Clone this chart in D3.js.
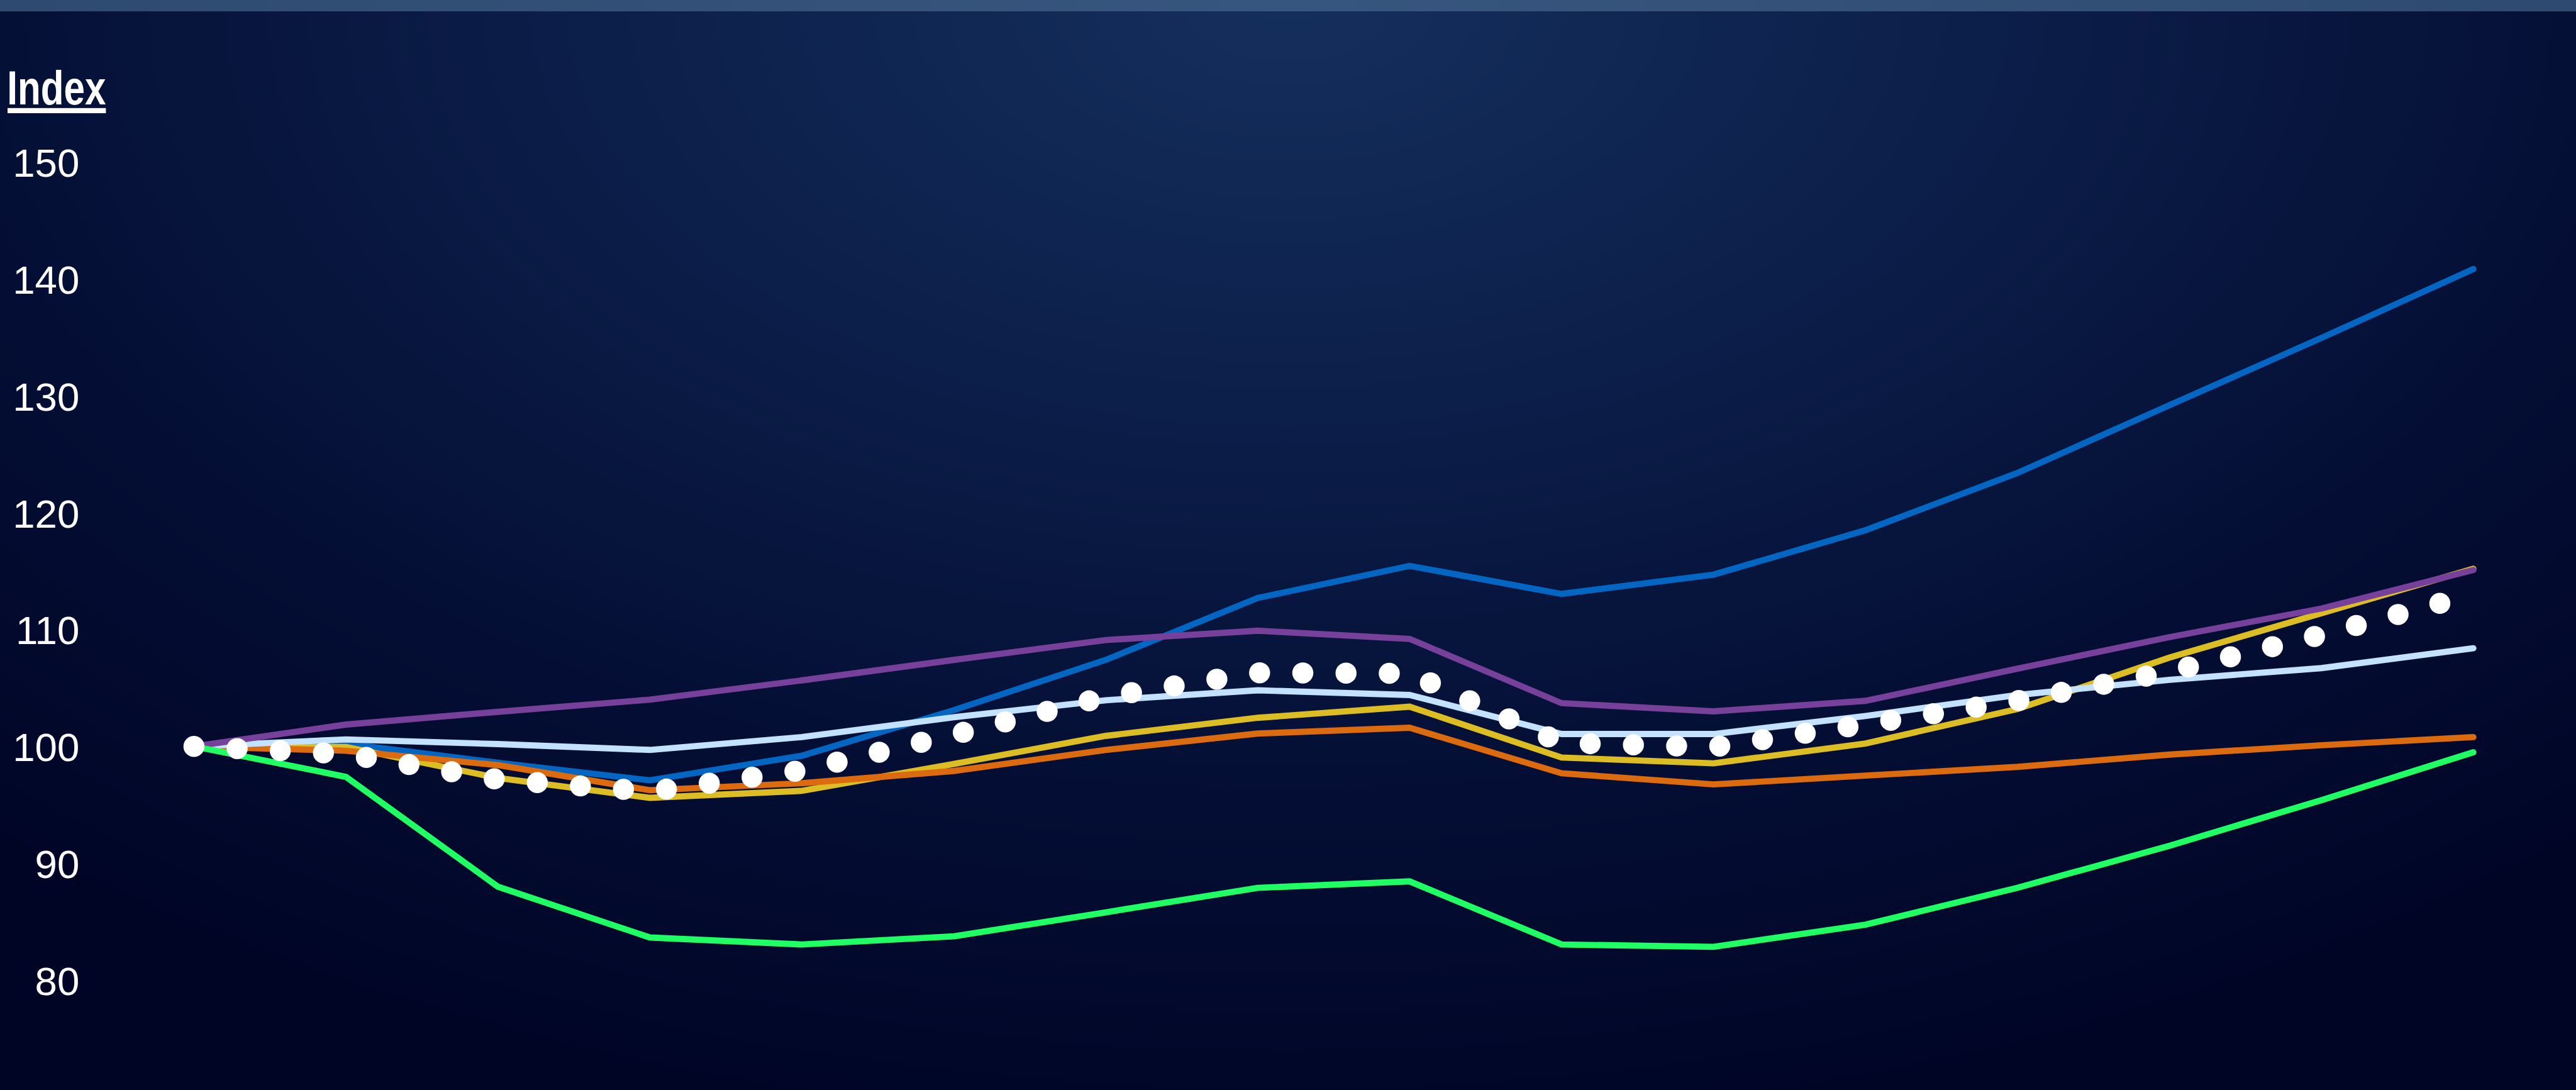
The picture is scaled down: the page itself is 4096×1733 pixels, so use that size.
<!DOCTYPE html>
<html><head><meta charset="utf-8">
<script src="https://cdn.jsdelivr.net/npm/d3@7"></script>
<style>html,body{margin:0;padding:0;overflow:hidden;background:#010628}</style>
</head><body>
<script>
// ---- data ----
const periods = ["P1","P2","P3","P4","P5","P6","P7","P8","P9","P10","P11","P12","P13","P14","P15","P16"];
const yTicks = [80, 90, 100, 110, 120, 130, 140, 150];
const seriesBlue      = [100, 100.25, 98.6, 97.1, 99.2, 103.1, 107.4, 112.7, 115.45, 113.05, 114.7, 118.5, 123.4, 129.2, 134.95, 140.85];
const seriesYellow    = [100, 99.95, 97.3, 95.6, 96.2, 98.5, 100.9, 102.45, 103.4, 99.05, 98.55, 100.25, 103.2, 107.6, 111.4, 115.2];
const seriesOrange    = [100, 99.63, 98.4, 96.25, 96.85, 97.9, 99.7, 101.1, 101.6, 97.7, 96.75, 97.5, 98.25, 99.3, 100.1, 100.8];
const seriesLightBlue = [100, 100.6, 100.2, 99.7, 100.8, 102.5, 103.95, 104.8, 104.4, 101.06, 101.06, 102.6, 104.4, 105.7, 106.7, 108.4];
const seriesPurple    = [100, 101.87, 102.96, 104.0, 105.65, 107.4, 109.1, 109.9, 109.2, 103.7, 103.0, 103.9, 106.65, 109.35, 111.8, 115.1];
const seriesGreen     = [100, 97.4, 88.0, 83.65, 83.05, 83.75, 85.8, 87.9, 88.45, 83.05, 82.85, 84.75, 87.9, 91.5, 95.4, 99.5];
const seriesWhite     = [100, 99.35, 97.17, 96.15, 97.95, 101.0, 104.25, 106.3, 106.25, 100.3, 99.95, 101.9, 103.9, 106.4, 109.55, 113.0];
const axisTitle = "Index";

// ---- layout ----
const W = 4096, H = 1733, S = 4096 / 4768;
const svg = d3.select("body").append("svg").attr("width", W).attr("height", H);
const defs = svg.append("defs");

const bg = defs.append("radialGradient").attr("id", "bg")
  .attr("gradientUnits", "userSpaceOnUse")
  .attr("cx", W / 2).attr("cy", 0).attr("r", H * 1.05)
  .attr("gradientTransform", `translate(${W/2},0) scale(1.7,1) translate(${-W/2},0)`);
bg.append("stop").attr("offset", 0).attr("stop-color", "#152f5d");
bg.append("stop").attr("offset", 0.35).attr("stop-color", "#0c1f4a");
bg.append("stop").attr("offset", 0.7).attr("stop-color", "#040e34");
bg.append("stop").attr("offset", 1).attr("stop-color", "#000526");

const bar = defs.append("linearGradient").attr("id", "bar").attr("x1", 0).attr("x2", 1).attr("y1", 0).attr("y2", 0);
bar.append("stop").attr("offset", 0).attr("stop-color", "#2e4a70");
bar.append("stop").attr("offset", 0.5).attr("stop-color", "#37567f");
bar.append("stop").attr("offset", 1).attr("stop-color", "#2e4a70");

svg.append("rect").attr("width", W).attr("height", H).attr("fill", "url(#bg)");
svg.append("rect").attr("width", W).attr("height", 21 * S).attr("fill", "url(#bar)");

const x = d3.scalePoint().domain(periods).range([359 * S, 4578 * S]);
const y = d3.scaleLinear().domain([80, 150]).range([1814 * S, 300 * S]);

// y axis
const gAxis = svg.append("g").attr("transform", `translate(${147 * S},0)`)
  .call(d3.axisLeft(y).tickValues(yTicks).tickSize(0).tickPadding(0).tickFormat(d3.format("d")));
gAxis.select(".domain").remove();
gAxis.selectAll("text")
  .attr("fill", "#ffffff")
  .attr("dy", "0.36em")
  .style("font-family", "'Liberation Sans', Arial, sans-serif")
  .style("font-size", (74 * S) + "px");

// axis title
svg.append("text").text(axisTitle)
  .attr("x", 13 * S).attr("y", 193 * S)
  .attr("fill", "#ffffff")
  .attr("textLength", 183 * S).attr("lengthAdjust", "spacingAndGlyphs")
  .style("font-family", "'Liberation Sans Narrow', 'Arial Narrow', 'Liberation Sans', sans-serif")
  .style("font-weight", "bold")
  .style("font-size", (88 * S) + "px");
svg.append("rect").attr("x", 14 * S).attr("y", 200 * S).attr("width", 182 * S).attr("height", 9.5 * S).attr("fill", "#ffffff");

// lines
const line = d3.line().x((d, i) => x(periods[i])).y(d => y(d));
const lineSeries = [
  {data: seriesBlue, color: "#0466c3"},
  {data: seriesYellow, color: "#dcbe24"},
  {data: seriesOrange, color: "#dc6a0e"},
  {data: seriesLightBlue, color: "#c2e2ff"},
  {data: seriesPurple, color: "#77409b"},
  {data: seriesGreen, color: "#1fff64"}
];
svg.append("g").selectAll("path").data(lineSeries).join("path")
  .attr("d", d => line(d.data))
  .attr("fill", "none")
  .attr("stroke", d => d.color)
  .attr("stroke-width", 11.5 * S)
  .attr("stroke-linejoin", "miter")
  .attr("stroke-linecap", "round");

// dotted series
svg.append("path")
  .attr("d", line(seriesWhite))
  .attr("fill", "none")
  .attr("stroke", "#ffffff")
  .attr("stroke-width", 39 * S)
  .attr("stroke-linecap", "round")
  .attr("stroke-dasharray", `0 ${80 * S}`);
</script>
</body></html>
